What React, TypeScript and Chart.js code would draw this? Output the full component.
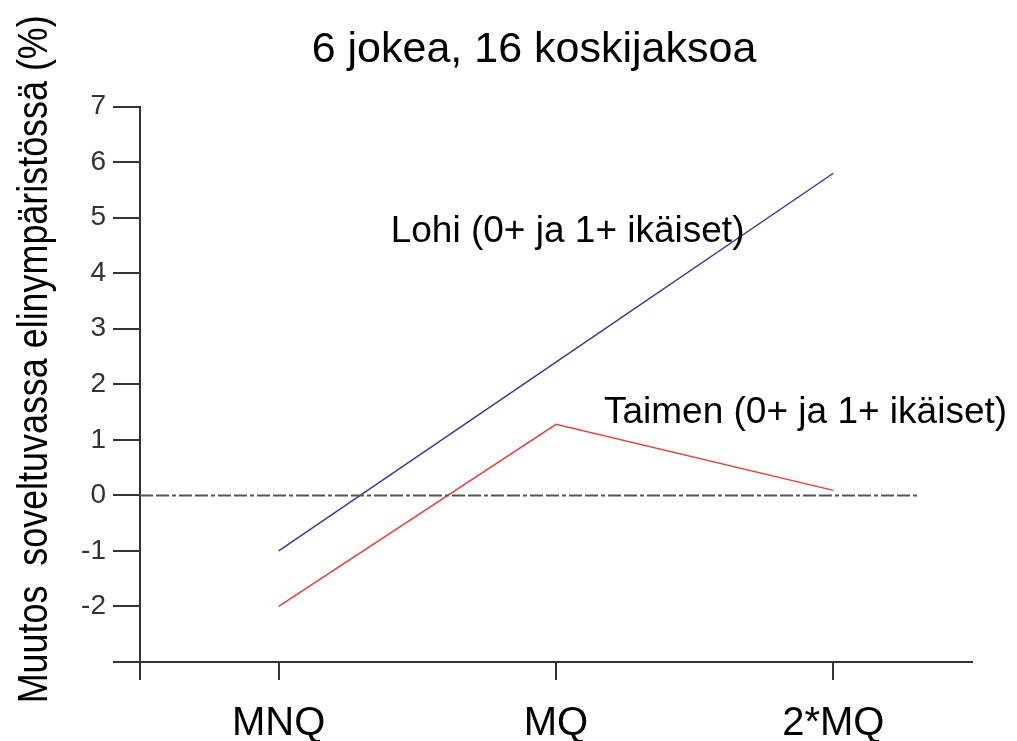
import React, { useEffect, useRef } from 'react';
import { Chart, registerables } from 'chart.js';

Chart.register(...registerables);

// ---- data ----
const categories = ['MNQ', 'MQ', '2*MQ'];
const categoryPositions = [0, 1, 2];
const lohiValues = [-1, 2.4, 5.8];
const taimenValues = [-2, 1.28, 0.09];
const zeroLineX = [-0.5, 2.31];
const zeroLineY = [0, 0];
const yTickValues = [-3, -2, -1, 0, 1, 2, 3, 4, 5, 6, 7];
const xTickValues = [-0.5, 0, 1, 2];

const titleText = '6 jokea, 16 koskijaksoa';
const yTitleText = 'Muutos  soveltuvassa elinympäristössä (%)';
const lohiLabel = 'Lohi (0+ ja 1+ ikäiset)';
const taimenLabel = 'Taimen (0+ ja 1+ ikäiset)';

const FONT = '"Liberation Sans", Arial, Helvetica, sans-serif';

const textPlugin = {
  id: 'textLabels',
  afterLayout(chart: any) {
    // let the y tick labels use the space left of the axis box (no clipping)
    if (chart.scales.y) chart.scales.y.left = 0;
  },
  afterDraw(chart: any) {
    const { ctx, scales } = chart;
    const xs = scales.x;
    const ys = scales.y;
    const opts = chart.options.plugins.textLabels;
    ctx.save();
    ctx.fillStyle = '#000';
    ctx.font = `${opts.size}px ${FONT}`;
    ctx.textAlign = 'left';
    ctx.textBaseline = 'alphabetic';
    opts.items.forEach((it: any) => {
      ctx.fillText(it.text, xs.getPixelForValue(it.x), ys.getPixelForValue(it.y));
    });
    // y-axis title (rotated), compressed along its length to match the reference
    ctx.font = `${opts.yTitleSize}px ${FONT}`;
    ctx.textAlign = 'center';
    ctx.textBaseline = 'alphabetic';
    const w = ctx.measureText(opts.yTitle).width;
    ctx.translate(opts.yTitleBaselineX, (ys.top + ys.bottom) / 2 - opts.yTitleShift);
    ctx.rotate(-Math.PI / 2);
    ctx.scale(opts.yTitleLength / w, 1);
    ctx.fillText(opts.yTitle, 0, 0);
    ctx.restore();
  },
};

export default function App() {
  const canvasRef = useRef<HTMLCanvasElement | null>(null);

  useEffect(() => {
    if (!canvasRef.current) return;
    const chart = new Chart(canvasRef.current, {
      type: 'line',
      data: {
        datasets: [
          {
            label: 'Nollataso',
            data: zeroLineX.map((x, i) => ({ x, y: zeroLineY[i] })),
            borderColor: '#555555',
            borderWidth: 2,
            borderDash: [13, 3, 13, 3, 4, 3],
            pointRadius: 0,
            fill: false,
          },
          {
            label: 'Lohi',
            data: categoryPositions.map((x, i) => ({ x, y: lohiValues[i] })),
            borderColor: '#3c3a9a',
            borderWidth: 1.5,
            pointRadius: 0,
            fill: false,
            tension: 0,
          },
          {
            label: 'Taimen',
            data: categoryPositions.map((x, i) => ({ x, y: taimenValues[i] })),
            borderColor: '#ee3b3b',
            borderWidth: 1.5,
            pointRadius: 0,
            fill: false,
            tension: 0,
          },
        ],
      },
      options: {
        animation: false,
        responsive: false,
        layout: { padding: { top: 0, right: 45, bottom: 0, left: 96 } },
        plugins: {
          legend: { display: false },
          tooltip: { enabled: false },
          title: {
            display: true,
            text: titleText,
            color: '#000',
            font: { size: 43, family: FONT, weight: 'normal' },
            padding: { top: 24, bottom: 31 },
          },
          textLabels: {
            size: 37,
            items: [
              { text: lohiLabel, x: 0.404, y: 4.56 },
              { text: taimenLabel, x: 1.173, y: 1.3 },
            ],
            yTitle: yTitleText,
            yTitleSize: 43,
            yTitleLength: 688,
            yTitleBaselineX: 47,
            yTitleShift: 25,
          },
        } as any,
        scales: {
          x: {
            type: 'linear',
            min: -0.5,
            max: 2.5,
            afterBuildTicks: (s: any) => {
              s.ticks = xTickValues.map((v) => ({ value: v }));
            },
            afterFit: (s: any) => {
              s.height = 79;
            },
            ticks: {
              autoSkip: false,
              maxRotation: 0,
              color: '#000',
              padding: 20,
              font: { size: 40, family: FONT },
              callback: (v: any) => {
                const i = categoryPositions.indexOf(Number(v));
                return i >= 0 ? categories[i] : '';
              },
            },
            grid: {
              drawOnChartArea: false,
              drawTicks: true,
              tickLength: 18,
              color: '#333',
              lineWidth: 2,
            },
            border: { display: true, color: '#333', width: 2 },
          },
          y: {
            type: 'linear',
            min: -3,
            max: 7,
            afterBuildTicks: (s: any) => {
              s.ticks = yTickValues.map((v) => ({ value: v }));
            },
            afterFit: (s: any) => {
              s.width = 44;
            },
            ticks: {
              color: '#333',
              padding: 7,
              font: { size: 28, family: FONT },
              callback: (v: any) => (Number(v) === -3 ? '' : String(v)),
            },
            grid: {
              drawOnChartArea: false,
              drawTicks: true,
              tickLength: 27,
              color: '#333',
              lineWidth: 2,
            },
            border: { display: true, color: '#333', width: 2 },
          },
        },
      },
      plugins: [textPlugin],
    } as any);
    return () => chart.destroy();
  }, []);

  return (
    <div style={{ position: 'fixed', left: 0, top: 0, width: 1017, height: 741, background: '#fff' }}>
      <canvas ref={canvasRef} width={1017} height={741} style={{ display: 'block' }} />
    </div>
  );
}
